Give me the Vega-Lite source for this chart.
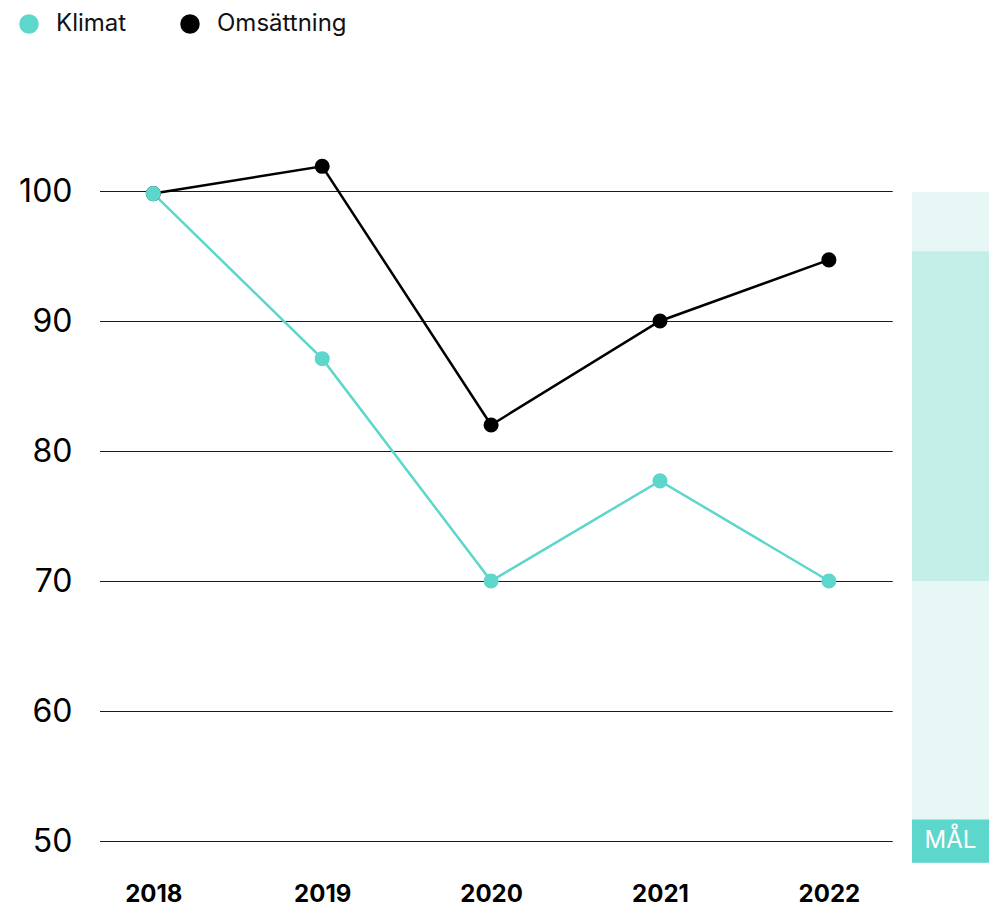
{
  "$schema": "https://vega.github.io/schema/vega-lite/v6.json",
  "width": 889,
  "height": 676,
  "autosize": {"type": "none"},
  "padding": {"left": 100, "top": 191, "right": 0, "bottom": 39},
  "background": "white",
  "config": {
    "view": {"stroke": null},
    "font": "Inter",
    "legend": {"padding": 0}
  },
  "datasets": {
    "series": [
      {"year": 2018, "serie": "Omsättning", "value": 99.8},
      {"year": 2019, "serie": "Omsättning", "value": 101.9},
      {"year": 2020, "serie": "Omsättning", "value": 82.0},
      {"year": 2021, "serie": "Omsättning", "value": 90.0},
      {"year": 2022, "serie": "Omsättning", "value": 94.7},
      {"year": 2018, "serie": "Klimat", "value": 99.8},
      {"year": 2019, "serie": "Klimat", "value": 87.1},
      {"year": 2020, "serie": "Klimat", "value": 70.0},
      {"year": 2021, "serie": "Klimat", "value": 77.7},
      {"year": 2022, "serie": "Klimat", "value": 70.0}
    ],
    "grid": [
      {"level": 50}, {"level": 60}, {"level": 70}, {"level": 80}, {"level": 90}, {"level": 100}
    ]
  },
  "layer": [
    {
      "data": {"name": "grid"},
      "mark": {"type": "rule", "color": "#1a1a1a", "strokeWidth": 1, "yOffset": 0.5},
      "encoding": {
        "y": {"field": "level", "type": "quantitative", "scale": {"domain": [48, 100], "nice": false, "zero": false},
              "axis": {"values": [50, 60, 70, 80, 90, 100], "domain": false, "ticks": false, "grid": false, "title": null, "labelFontSize": 32, "labelColor": "#000", "labelPadding": 28, "labelFont": "Inter"}},
        "x": {"datum": 2017.6844, "type": "quantitative", "scale": {"domain": [2017.6844, 2022.948], "nice": false, "zero": false},
              "axis": {"values": [2018, 2019, 2020, 2021, 2022], "format": "d", "domain": false, "ticks": false, "grid": false, "title": null, "labelFontSize": 24, "labelFontWeight": "bold", "labelColor": "#000", "labelPadding": 15, "labelFont": "Inter"}},
        "x2": {"datum": 2022.378}
      }
    },
    {
      "data": {"values": [{"from": 99.92, "to": 48.33}]},
      "mark": {"type": "rect", "color": "#E6F7F5"},
      "encoding": {
        "x": {"datum": 2022.492, "type": "quantitative"},
        "x2": {"datum": 2022.948},
        "y": {"field": "from", "type": "quantitative"},
        "y2": {"field": "to"}
      }
    },
    {
      "data": {"values": [{"from": 95.36, "to": 70.0}]},
      "mark": {"type": "rect", "color": "#C4EFE9"},
      "encoding": {
        "x": {"datum": 2022.492, "type": "quantitative"},
        "x2": {"datum": 2022.948},
        "y": {"field": "from", "type": "quantitative"},
        "y2": {"field": "to"}
      }
    },
    {
      "data": {"values": [{"from": 51.66, "to": 48.33, "mid": 50.0, "label": "MÅL"}]},
      "layer": [
        {
          "mark": {"type": "rect", "color": "#5DD6CB"},
          "encoding": {
            "x": {"datum": 2022.492, "type": "quantitative"},
            "x2": {"datum": 2022.948},
            "y": {"field": "from", "type": "quantitative"},
            "y2": {"field": "to"}
          }
        },
        {
          "mark": {"type": "text", "color": "white", "fontSize": 24, "font": "Inter", "align": "center", "baseline": "middle"},
          "encoding": {
            "x": {"datum": 2022.72, "type": "quantitative"},
            "y": {"field": "mid", "type": "quantitative"},
            "text": {"field": "label"}
          }
        }
      ]
    },
    {
      "data": {"name": "series"},
      "mark": {"type": "line", "strokeWidth": 2.5},
      "encoding": {
        "x": {"field": "year", "type": "quantitative"},
        "y": {"field": "value", "type": "quantitative"},
        "color": {"field": "serie", "type": "nominal",
                  "scale": {"domain": ["Klimat", "Omsättning"], "range": ["#5DD6CB", "#000000"]},
                  "legend": {"title": null, "orient": "none", "legendX": -83, "legendY": -179, "direction": "horizontal",
                             "symbolType": "circle", "symbolSize": 380, "symbolStrokeWidth": 0, "symbolOpacity": 1, "symbolFillColor": null,
                             "labelFontSize": 24, "labelFont": "Inter", "labelColor": "#111", "labelOffset": 15, "columnPadding": 51}},
        "detail": {"field": "serie"}
      }
    },
    {
      "data": {"name": "series"},
      "mark": {"type": "point", "filled": true, "opacity": 1, "size": 227},
      "encoding": {
        "x": {"field": "year", "type": "quantitative"},
        "y": {"field": "value", "type": "quantitative"},
        "color": {"field": "serie", "type": "nominal",
                  "scale": {"domain": ["Klimat", "Omsättning"], "range": ["#5DD6CB", "#000000"]},
                  "legend": {"title": null, "orient": "none", "legendX": -83, "legendY": -179, "direction": "horizontal",
                             "symbolType": "circle", "symbolSize": 380, "symbolStrokeWidth": 0, "symbolOpacity": 1,
                             "labelFontSize": 24, "labelFont": "Inter", "labelColor": "#111", "labelOffset": 15, "columnPadding": 51}}
      }
    }
  ]
}
